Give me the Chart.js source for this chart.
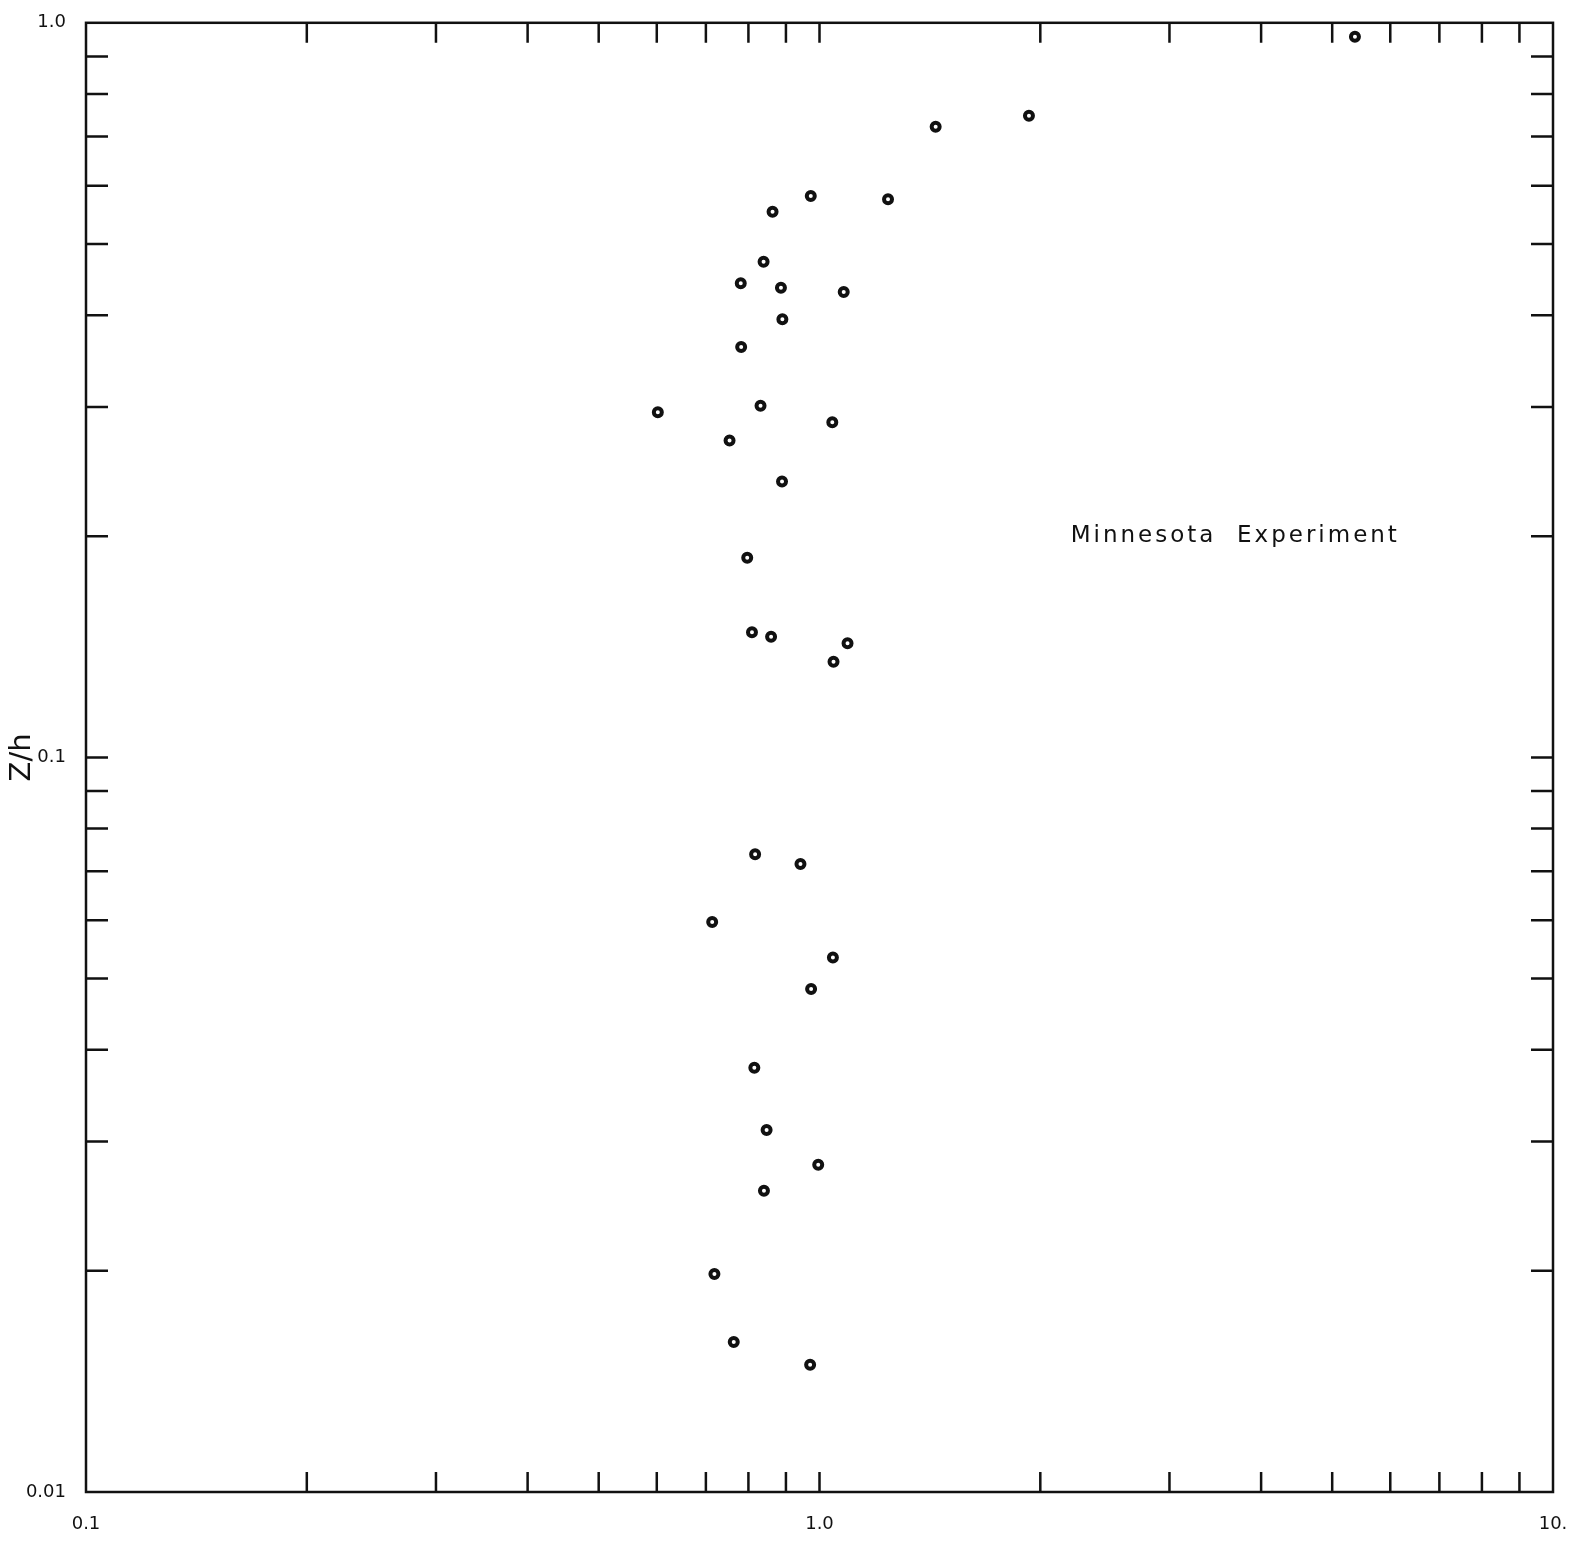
<!DOCTYPE html>
<html>
<head>
<meta charset="utf-8">
<script src="https://cdn.jsdelivr.net/npm/chart.js@4.4.1/dist/chart.umd.min.js"></script>
<style>
  html, body { margin: 0; padding: 0; background: #fff; overflow: hidden; }
  #wrap { width: 1577px; height: 1549px; }
</style>
</head>
<body>
<div id="wrap"><canvas id="grafico"></canvas></div>
<script>
// valores (escala log-log)
const valoresX = [5.37, 1.93, 1.44, 0.973, 1.24, 0.863, 0.839, 0.781, 0.886, 1.079,
                  0.890, 0.782, 0.602, 0.831, 1.041, 0.754, 0.889, 0.797, 0.809, 0.859,
                  1.092, 1.045, 0.817, 0.942, 0.714, 1.043, 0.974, 0.815, 0.847, 0.996,
                  0.840, 0.719, 0.764, 0.971];
const valoresZh = [0.957, 0.747, 0.722, 0.581, 0.575, 0.553, 0.473, 0.442, 0.436, 0.430,
                   0.395, 0.362, 0.295, 0.301, 0.286, 0.270, 0.2375, 0.187, 0.148, 0.146,
                   0.143, 0.135, 0.0738, 0.0716, 0.0597, 0.0534, 0.0484, 0.0378, 0.0311, 0.0279,
                   0.0257, 0.0198, 0.0160, 0.0149];

// marcas dos eixos
const ticksX = [0.1, 0.2, 0.3, 0.4, 0.5, 0.6, 0.7, 0.8, 0.9, 1, 2, 3, 4, 5, 6, 7, 8, 9, 10];
const ticksY = [0.01, 0.02, 0.03, 0.04, 0.05, 0.06, 0.07, 0.08, 0.09,
                0.1, 0.2, 0.3, 0.4, 0.5, 0.6, 0.7, 0.8, 0.9, 1];
const rotulosX = { 0.1: '0.1', 1: '1.0', 10: '10.' };
const rotulosY = { 0.01: '0.01', 0.1: '0.1', 1: '1.0' };

const pontos = valoresX.map((x, i) => ({ x: x, y: valoresZh[i] }));

// moldura e marcas para dentro nos quatro lados
const molduraPlugin = {
    id: 'moldura',
    afterDraw(chart) {
        const ctx = chart.ctx;
        const a = chart.chartArea;
        const sx = chart.scales.x, sy = chart.scales.y;
        ctx.save();
        ctx.strokeStyle = '#111';
        ctx.lineWidth = 2.5;
        ctx.strokeRect(a.left, a.top, a.right - a.left, a.bottom - a.top);
        ticksX.forEach(v => {
            if (v === 0.1 || v === 10) return;
            const px = sx.getPixelForValue(v);
            ctx.beginPath();
            ctx.moveTo(px, a.bottom); ctx.lineTo(px, a.bottom - 20);
            ctx.moveTo(px, a.top); ctx.lineTo(px, a.top + 20);
            ctx.stroke();
        });
        ticksY.forEach(v => {
            if (v === 0.01 || v === 1) return;
            const py = sy.getPixelForValue(v);
            ctx.beginPath();
            ctx.moveTo(a.left, py); ctx.lineTo(a.left + 22, py);
            ctx.moveTo(a.right, py); ctx.lineTo(a.right - 22, py);
            ctx.stroke();
        });
        // legenda no interior
        ctx.fillStyle = '#111';
        ctx.font = '23px "DejaVu Sans"';
        ctx.letterSpacing = '3px';
        ctx.textAlign = 'left';
        ctx.textBaseline = 'middle';
        ctx.fillText('Minnesota  Experiment', sx.getPixelForValue(2.2), sy.getPixelForValue(0.2));
        ctx.restore();
    }
};

new Chart(document.getElementById('grafico'), {
    type: 'scatter',
    data: {
        datasets: [{
            label: 'Minnesota Experiment',
            data: pontos,
            pointRadius: 4,
            pointBorderWidth: 4,
            pointBackgroundColor: '#fff',
            pointBorderColor: '#111'
        }]
    },
    options: {
        responsive: true,
        maintainAspectRatio: false,
        animation: false,
        layout: { padding: { top: 20, right: 24, left: 0, bottom: 0 } },
        plugins: {
            legend: { display: false },
            tooltip: { enabled: false }
        },
        scales: {
            x: {
                type: 'logarithmic',
                min: 0.1,
                max: 10,
                afterBuildTicks: s => { s.ticks = ticksX.map(v => ({ value: v })); },
                afterFit: s => { s.height = 57; s.paddingRight = 0; },
                grid: { display: false },
                border: { display: false },
                ticks: {
                    autoSkip: false,
                    maxRotation: 0,
                    padding: 14,
                    color: '#111',
                    font: { family: 'DejaVu Sans', size: 18 },
                    callback: v => rotulosX[v] || ''
                }
            },
            y: {
                type: 'logarithmic',
                min: 0.01,
                max: 1,
                afterBuildTicks: s => { s.ticks = ticksY.map(v => ({ value: v })); },
                afterFit: s => { s.width = 86; },
                grid: { display: false },
                border: { display: false },
                title: {
                    display: true,
                    text: 'Z/h',
                    color: '#111',
                    font: { family: 'DejaVu Sans', size: 29 },
                    padding: { top: 5, bottom: 0 }
                },
                ticks: {
                    autoSkip: false,
                    padding: 12,
                    color: '#111',
                    font: { family: 'DejaVu Sans', size: 18 },
                    callback: v => rotulosY[v] || ''
                }
            }
        }
    },
    plugins: [molduraPlugin]
});
</script>
</body>
</html>
